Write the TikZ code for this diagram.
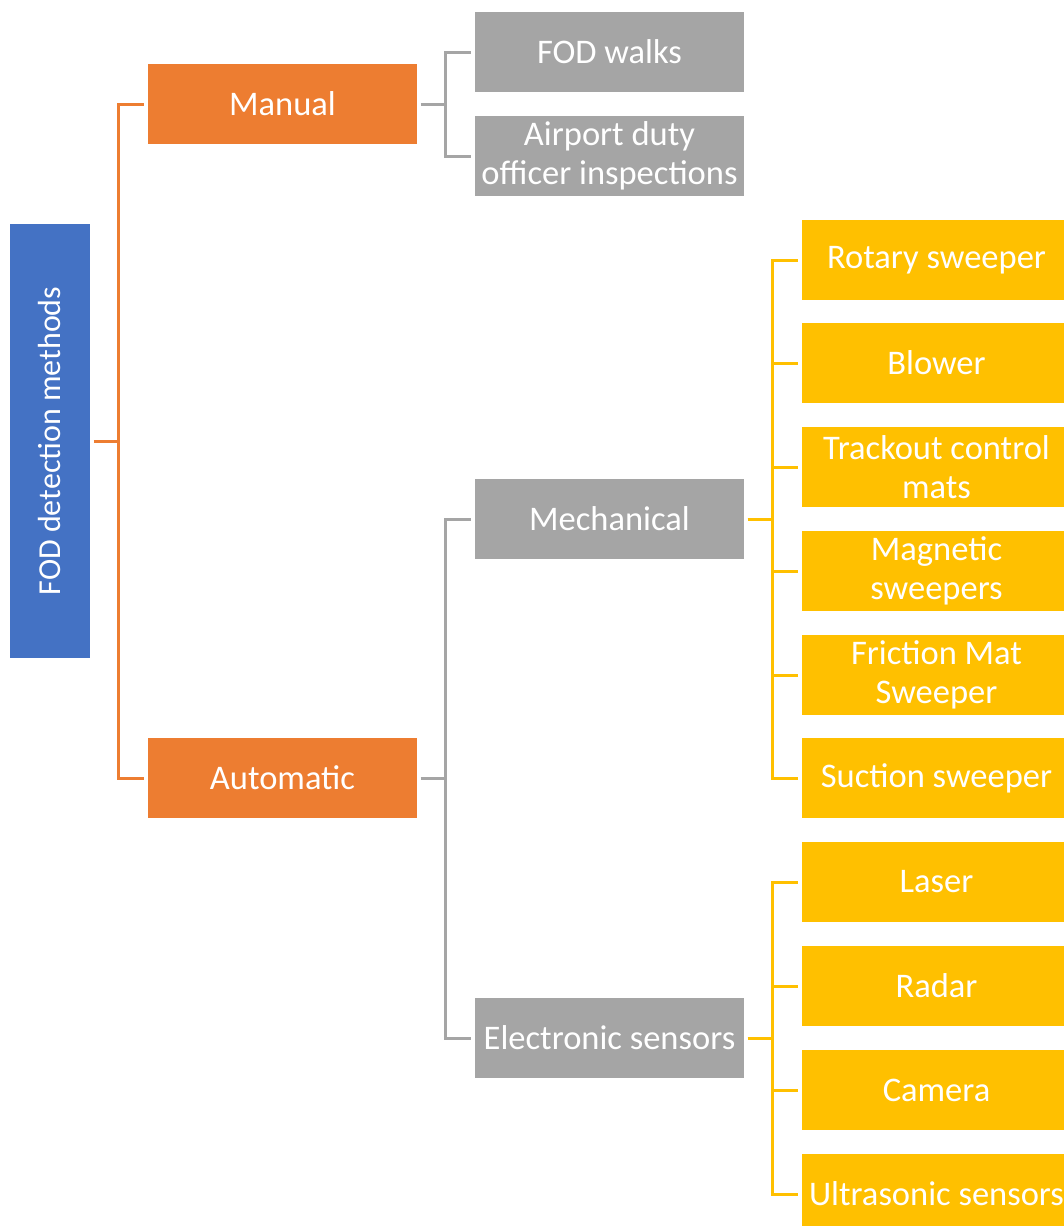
\documentclass[tikz,border=0pt]{standalone}
\usepackage{fontspec}
\usepackage{graphicx}
\setmainfont{Carlito}
\definecolor{cblue}{HTML}{4472C4}
\definecolor{corange}{HTML}{ED7D31}
\definecolor{cgrey}{HTML}{A5A5A5}
\definecolor{cyellow}{HTML}{FFC000}
\begin{document}
\begin{tikzpicture}[x=1pt,y=-1pt,
  box/.style={rectangle, draw=white, line width=0.8pt, text=white, inner sep=0pt,
    align=center, minimum width=270, minimum height=81,
    font=\fontsize{34.5}{39}\selectfont},
  rootbox/.style={box, fill=cblue, minimum width=81, minimum height=435,
    font=\fontsize{32}{38}\selectfont},
  lvlone/.style={box, fill=corange},
  lvltwo/.style={box, fill=cgrey},
  lvlthree/.style={box, fill=cyellow},
  link/.style={line width=3pt, shorten <=3pt, shorten >=3pt},
  olink/.style={link, draw=corange},
  glink/.style={link, draw=cgrey},
  ylink/.style={link, draw=cyellow}]
\useasboundingbox (0,0) rectangle (1064,1226);

% root of the tree
\node[rootbox] (root) at (50,441) {\rotatebox{90}{FOD detection methods}};

% first level
\node[lvlone] (manual) at (282.5,104) {Manual};
\node[lvlone] (auto) at (282.5,778) {Automatic};

% second level
\node[lvltwo] (walks) at (609.5,52) {FOD walks};
\node[lvltwo] (duty) at (609.5,156) {Airport duty\\officer inspections};
\node[lvltwo] (mech) at (609.5,519) {Mechanical};
\node[lvltwo] (elec) at (609.5,1038) {Electronic sensors};

% third level: mechanical
\node[lvlthree] (rotary) at (936.5,260) {Rotary sweeper};
\node[lvlthree] (blower) at (936.5,363) {Blower};
\node[lvlthree] (track) at (936.5,467) {Trackout control\\mats};
\node[lvlthree] (magnet) at (936.5,571) {Magnetic\\sweepers};
\node[lvlthree] (friction) at (936.5,675) {Friction Mat\\Sweeper};
\node[lvlthree] (suction) at (936.5,778) {Suction sweeper};

% third level: electronic sensors
\node[lvlthree] (laser) at (936.5,882) {Laser};
\node[lvlthree] (radar) at (936.5,986) {Radar};
\node[lvlthree] (camera) at (936.5,1090) {Camera};
\node[lvlthree] (ultra) at (936.5,1194) {Ultrasonic sensors};

% connectors
\foreach \c in {manual,auto}
  \draw[olink] (root.east) -- ++(28,0) |- (\c.west);
\foreach \c in {walks,duty}
  \draw[glink] (manual.east) -- ++(28,0) |- (\c.west);
\foreach \c in {mech,elec}
  \draw[glink] (auto.east) -- ++(28,0) |- (\c.west);
\foreach \c in {rotary,blower,track,magnet,friction,suction}
  \draw[ylink] (mech.east) -- ++(28,0) |- (\c.west);
\foreach \c in {laser,radar,camera,ultra}
  \draw[ylink] (elec.east) -- ++(28,0) |- (\c.west);
\end{tikzpicture}
\end{document}
